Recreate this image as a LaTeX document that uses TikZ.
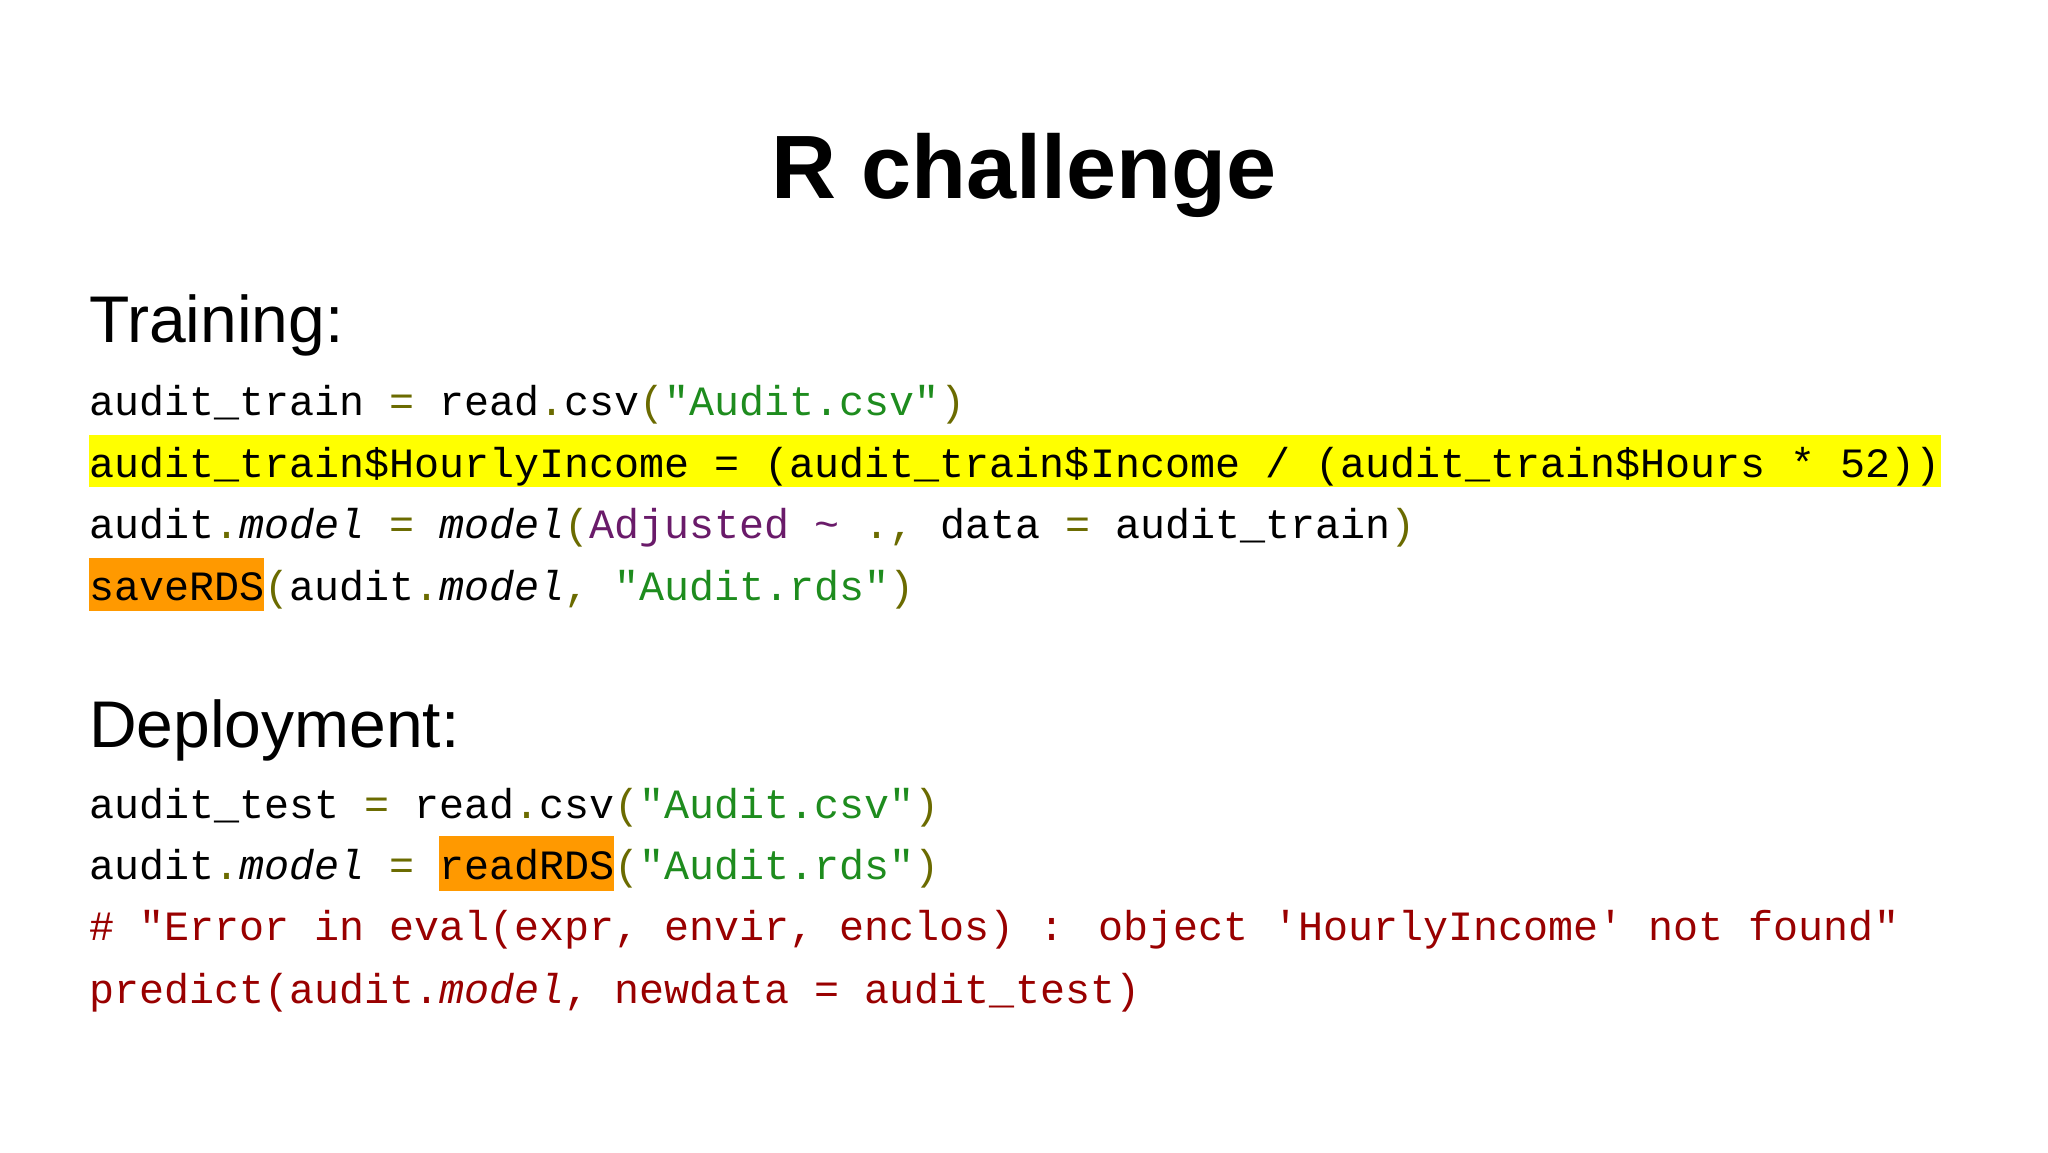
\documentclass[tikz,border=0pt]{standalone}
\usepackage{fontspec}
\setmainfont{Liberation Sans}
\newfontfamily\codefont{Liberation Mono}
\definecolor{opc}{HTML}{6B6B00}
\definecolor{strc}{HTML}{1E8C1E}
\definecolor{purc}{HTML}{6A1B6A}
\definecolor{redc}{HTML}{990000}
\definecolor{hly}{HTML}{FFFF00}
\definecolor{hlo}{HTML}{FF9900}
\newcommand\op[1]{\textcolor{opc}{#1}}
\newcommand\st[1]{\textcolor{strc}{#1}}
\newcommand\pu[1]{\textcolor{purc}{#1}}
\tikzset{codeline/.style={anchor=base west,inner sep=0pt,font=\codefont\fontsize{41.7}{50}\selectfont},
 heading/.style={anchor=base west,inner sep=0pt,font=\fontsize{66}{80}\selectfont},
 hlbox/.style={draw=none,inner sep=0pt}}
\begin{document}
\begin{tikzpicture}[x=1pt,y=-1pt]
\useasboundingbox[fill=white] (0,0) rectangle (2048,1152);
\fill[hly] (89,435) rectangle (1941,487);
\fill[hlo] (89,558) rectangle (264,611);
\fill[hlo] (439,836) rectangle (614,891);
\node[anchor=base,inner sep=0pt,font=\bfseries\fontsize{90}{100}\selectfont] (title) at (1024,198) {R challenge};
\node[heading] (train) at (89,342) {Training:};
\node[codeline] (l1) at (89,415) {audit\_train \op{=} read\op{.}csv\op{(}\st{"Audit.csv"}\op{)}};
\node[codeline] (l2) at (89,477) {audit\_train\$HourlyIncome = (audit\_train\$Income / (audit\_train\$Hours * 52))};
\node[codeline] (l3) at (89,538) {audit\op{.}\textit{model} \op{=} \textit{model}\op{(}\pu{Adjusted \textasciitilde} \op{.,} data \op{=} audit\_train\op{)}};
\node[codeline] (l4) at (89,600) {saveRDS\op{(}audit\op{.}\textit{model}\op{,} \st{"Audit.rds"}\op{)}};
\node[heading] (dep) at (89,747) {Deployment:};
\node[codeline] (d1) at (89,818) {audit\_test \op{=} read\op{.}csv\op{(}\st{"Audit.csv"}\op{)}};
\node[codeline] (d2) at (89,879) {audit\op{.}\textit{model} \op{=} readRDS\op{(}\st{"Audit.rds"}\op{)}};
\node[codeline,text=redc] (d3) at (89,940) {\# "Error in eval(expr, envir, enclos) : object 'HourlyIncome' not found"};
\node[codeline,text=redc] (d4) at (89,1003) {predict(audit.\textit{model}, newdata = audit\_test)};
\end{tikzpicture}
\end{document}
